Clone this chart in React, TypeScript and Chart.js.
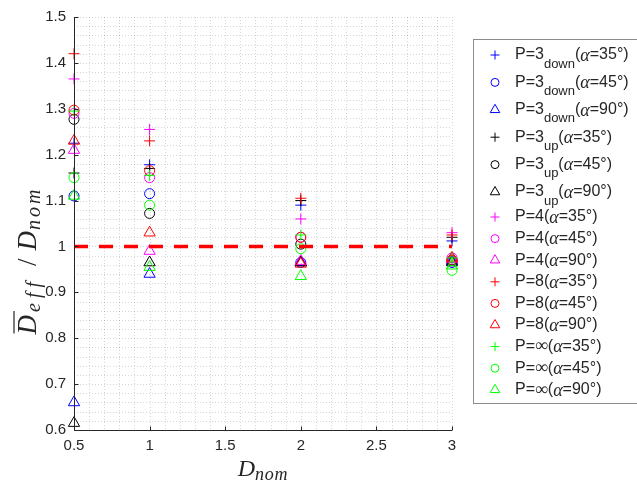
import React, { useEffect, useRef } from 'react';
import { Chart, registerables } from 'chart.js';

Chart.register(...registerables);

// ---- data ----
const xCategories = [0.5, 1, 2, 3];

const p3down35 = [1.225, 1.178, 1.09, 1.012];
const p3down45 = [1.11, 1.115, 0.965, 0.965];
const p3down90 = [0.66, 0.94, 0.965, 0.968];
const p3up35 = [1.16, 1.17, 1.1, 1.02];
const p3up45 = [1.277, 1.072, 1.005, 0.97];
const p3up90 = [0.615, 0.965, 0.965, 0.965];
const p4a35 = [1.365, 1.255, 1.06, 1.03];
const p4a45 = [1.29, 1.15, 1.02, 0.975];
const p4a90 = [1.21, 0.99, 0.968, 0.972];
const p8a35 = [1.42, 1.23, 1.105, 1.025];
const p8a45 = [1.297, 1.165, 1.02, 0.97];
const p8a90 = [1.23, 1.03, 0.962, 0.975];
const pInf35 = [1.295, 1.155, 1.025, 0.975];
const pInf45 = [1.15, 1.09, 0.995, 0.948];
const pInf90 = [1.11, 0.955, 0.935, 0.958];

const seriesValues = [
  p3down35, p3down45, p3down90,
  p3up35, p3up45, p3up90,
  p4a35, p4a45, p4a90,
  p8a35, p8a45, p8a90,
  pInf35, pInf45, pInf90,
];
const seriesP = ['3', '3', '3', '3', '3', '3', '4', '4', '4', '8', '8', '8', '∞', '∞', '∞'];
const seriesSub = ['down', 'down', 'down', 'up', 'up', 'up', '', '', '', '', '', '', '', '', ''];
const seriesAlpha = ['35', '45', '90', '35', '45', '90', '35', '45', '90', '35', '45', '90', '35', '45', '90'];
const seriesColors = [
  '#0000ff', '#0000ff', '#0000ff',
  '#000000', '#000000', '#000000',
  '#ff00ff', '#ff00ff', '#ff00ff',
  '#ff0000', '#ff0000', '#ff0000',
  '#00ff00', '#00ff00', '#00ff00',
];
const seriesShapes = [
  'cross', 'circle', 'triangle', 'cross', 'circle', 'triangle', 'cross', 'circle', 'triangle',
  'cross', 'circle', 'triangle', 'cross', 'circle', 'triangle',
];

const xMin = 0.5;
const xMax = 3;
const xMajorStep = 0.5;
const xMinorStep = 0.1;
const yMin = 0.6;
const yMax = 1.5;
const yMajorStep = 0.1;
const yMinorStep = 0.02;
const referenceLevel = 1;

// ---- styling ----
const TEXT = '#262626';
const SANS = "'Liberation Sans', Arial, sans-serif";
const SERIF = "'Liberation Serif', 'Times New Roman', serif";

function radiusFor(shape: string) {
  if (shape === 'triangle') return 6.5;
  if (shape === 'circle') return 5;
  return 5.5;
}

function drawMarker(ctx: CanvasRenderingContext2D, shape: string, x: number, y: number, r: number, color: string) {
  ctx.save();
  ctx.strokeStyle = color;
  ctx.lineWidth = 1;
  ctx.setLineDash([]);
  ctx.beginPath();
  if (shape === 'cross') {
    ctx.moveTo(x - r, y);
    ctx.lineTo(x + r, y);
    ctx.moveTo(x, y - r);
    ctx.lineTo(x, y + r);
  } else if (shape === 'circle') {
    ctx.arc(x, y, r, 0, Math.PI * 2);
  } else {
    ctx.moveTo(x, y - r);
    ctx.lineTo(x + 0.866 * r, y + 0.5 * r);
    ctx.lineTo(x - 0.866 * r, y + 0.5 * r);
    ctx.closePath();
  }
  ctx.stroke();
  ctx.restore();
}

const gridPlugin = {
  id: 'matlabGrid',
  beforeDatasetsDraw(chart: any) {
    const { ctx, chartArea, scales } = chart;
    const { left, right, top, bottom } = chartArea;
    ctx.save();
    ctx.strokeStyle = 'rgba(0,0,0,0.16)';
    ctx.lineWidth = 1;
    ctx.setLineDash([1, 2]);
    const nx = Math.round((xMax - xMin) / xMinorStep);
    for (let i = 1; i <= nx; i++) {
      const px = Math.round(scales.x.getPixelForValue(xMin + i * xMinorStep)) + 0.5;
      ctx.beginPath();
      ctx.moveTo(px, top);
      ctx.lineTo(px, bottom);
      ctx.stroke();
    }
    const ny = Math.round((yMax - yMin) / yMinorStep);
    for (let i = 1; i <= ny; i++) {
      const py = Math.round(scales.y.getPixelForValue(yMin + i * yMinorStep)) + 0.5;
      ctx.beginPath();
      ctx.moveTo(left, py);
      ctx.lineTo(right, py);
      ctx.stroke();
    }
    ctx.restore();
  },
};

const axesPlugin = {
  id: 'matlabAxes',
  afterDatasetsDraw(chart: any) {
    const { ctx, chartArea, scales } = chart;
    const { left, right, top, bottom } = chartArea;
    const lx = Math.round(left) + 0.5;
    const by = Math.round(bottom) + 0.5;
    ctx.save();
    ctx.strokeStyle = TEXT;
    ctx.lineWidth = 1;
    ctx.setLineDash([]);
    ctx.beginPath();
    ctx.moveTo(lx, top);
    ctx.lineTo(lx, by);
    ctx.lineTo(right, by);
    const tl = 4;
    const nx = Math.round((xMax - xMin) / xMajorStep);
    for (let i = 0; i <= nx; i++) {
      const px = Math.round(scales.x.getPixelForValue(xMin + i * xMajorStep)) + 0.5;
      ctx.moveTo(px, by);
      ctx.lineTo(px, by - tl);
    }
    const ny = Math.round((yMax - yMin) / yMajorStep);
    for (let i = 0; i <= ny; i++) {
      const py = Math.round(scales.y.getPixelForValue(yMin + i * yMajorStep)) + 0.5;
      ctx.moveTo(lx, py);
      ctx.lineTo(lx + tl, py);
    }
    ctx.stroke();
    ctx.restore();
  },
};

type Seg = { t: string; f: string; dy: number; ls?: number; gap?: number };

function segW(ctx: CanvasRenderingContext2D, s: Seg) {
  ctx.font = s.f;
  const chars = Array.from(s.t);
  return ctx.measureText(s.t).width + (s.ls || 0) * chars.length + (s.gap || 0);
}

function drawSegments(ctx: CanvasRenderingContext2D, segs: Seg[], startX: number, baseY: number) {
  let x = startX;
  const pos: number[] = [];
  for (const s of segs) {
    ctx.font = s.f;
    x += (s.gap || 0) / 2;
    pos.push(x);
    if (s.ls) {
      for (const ch of Array.from(s.t)) {
        ctx.fillText(ch, x, baseY + s.dy);
        x += ctx.measureText(ch).width + s.ls;
      }
    } else {
      ctx.fillText(s.t, x, baseY + s.dy);
      x += ctx.measureText(s.t).width;
    }
    x += (s.gap || 0) / 2;
  }
  return pos;
}

function totalW(ctx: CanvasRenderingContext2D, segs: Seg[]) {
  let w = 0;
  for (const s of segs) w += segW(ctx, s);
  return w;
}

const annotationsPlugin = {
  id: 'matlabAnnotations',
  afterDraw(chart: any) {
    const { ctx, chartArea } = chart;
    ctx.save();
    ctx.fillStyle = TEXT;
    ctx.textAlign = 'left';

    // legend box
    const boxL = 473.5;
    const boxT = 39.5;
    const boxB = 403.5;
    ctx.strokeStyle = '#8c8c8c';
    ctx.lineWidth = 1;
    ctx.strokeRect(boxL, boxT, 700 - boxL, boxB - boxT);

    let yc = 55;
    const sansF = `16px ${SANS}`;
    for (let i = 0; i < seriesP.length; i++) {
      if (i > 0) {
        const a = seriesSub[i - 1] !== '';
        const b = seriesSub[i] !== '';
        yc += a && b ? 27.4 : a !== b ? 25 : 21.6;
      }
      drawMarker(ctx, seriesShapes[i], 495, yc, radiusFor(seriesShapes[i]) - 1, seriesColors[i]);
      ctx.textBaseline = 'middle';
      ctx.fillStyle = TEXT;
      const segs: Seg[] = [
        { t: 'P=', f: sansF, dy: 0 },
        { t: seriesP[i], f: seriesP[i] === '∞' ? `18px ${SERIF}` : sansF, dy: 0 },
      ];
      if (seriesSub[i]) segs.push({ t: seriesSub[i], f: `13px ${SANS}`, dy: 9 });
      segs.push({ t: '(', f: sansF, dy: 0 });
      segs.push({ t: 'α', f: `italic 18px ${SERIF}`, dy: 1 });
      segs.push({ t: '=' + seriesAlpha[i] + '°)', f: sansF, dy: 0 });
      drawSegments(ctx, segs, 515, yc);
    }

    // x axis title
    ctx.textBaseline = 'alphabetic';
    const xSegs: Seg[] = [
      { t: 'D', f: `italic 24px ${SERIF}`, dy: 0 },
      { t: 'nom', f: `italic 18px ${SERIF}`, dy: 4, ls: 0.8 },
    ];
    const xc = (chartArea.left + chartArea.right) / 2;
    const xw = totalW(ctx, xSegs);
    drawSegments(ctx, xSegs, xc - xw / 2, 476);

    // y axis title (rotated)
    ctx.save();
    ctx.translate(0, 260);
    ctx.rotate(-Math.PI / 2);
    const ySegs: Seg[] = [
      { t: 'D', f: `italic 27px ${SERIF}`, dy: 0 },
      { t: 'eff', f: `italic 20px ${SERIF}`, dy: 4, ls: 5, gap: 6 },
      { t: '/', f: `27px ${SERIF}`, dy: 0, gap: 16 },
      { t: 'D', f: `italic 27px ${SERIF}`, dy: 0 },
      { t: 'nom', f: `italic 20px ${SERIF}`, dy: 4, ls: 3, gap: 2 },
    ];
    const yw = totalW(ctx, ySegs);
    const pos = drawSegments(ctx, ySegs, -yw / 2, 36);
    ctx.font = ySegs[0].f;
    const dW = ctx.measureText('D').width;
    ctx.strokeStyle = TEXT;
    ctx.lineWidth = 1.2;
    ctx.beginPath();
    ctx.moveTo(pos[0] + 1, 14);
    ctx.lineTo(pos[0] + dW + 4, 14);
    ctx.stroke();
    ctx.restore();

    ctx.restore();
  },
};

export default function App() {
  const canvasRef = useRef<HTMLCanvasElement | null>(null);

  useEffect(() => {
    document.body.style.margin = '0';
    const canvas = canvasRef.current;
    if (!canvas) return;

    const datasets: any[] = seriesValues.map((vals, i) => ({
      type: 'scatter',
      label: `P=${seriesP[i]}${seriesSub[i]}(α=${seriesAlpha[i]}°)`,
      data: vals.map((v, j) => ({ x: xCategories[j], y: v })),
      pointStyle: seriesShapes[i],
      pointRadius: radiusFor(seriesShapes[i]),
      pointHoverRadius: radiusFor(seriesShapes[i]),
      borderColor: seriesColors[i],
      backgroundColor: 'rgba(0,0,0,0)',
      pointBorderWidth: 1,
      borderWidth: 1,
      showLine: false,
      clip: false,
      order: seriesValues.length - i,
    }));

    datasets.push({
      type: 'line',
      label: 'reference',
      data: [
        { x: xMin, y: referenceLevel },
        { x: xMax, y: referenceLevel },
      ],
      borderColor: '#ff0000',
      borderWidth: 3.5,
      borderDash: [14, 11],
      pointRadius: 0,
      fill: false,
      clip: false,
      order: -1,
    });

    const tickFont = { family: SANS, size: 15 };
    const chart = new Chart(canvas, {
      type: 'scatter',
      data: { datasets },
      plugins: [gridPlugin, axesPlugin, annotationsPlugin],
      options: {
        responsive: false,
        animation: false,
        devicePixelRatio: 1,
        layout: { padding: { left: 0, top: 17, right: 185, bottom: 0 } },
        plugins: {
          legend: { display: false },
          tooltip: { enabled: false },
          title: { display: false },
        },
        scales: {
          x: {
            type: 'linear',
            min: xMin,
            max: xMax,
            grid: { display: false, drawTicks: false },
            border: { display: false },
            ticks: {
              stepSize: xMajorStep,
              autoSkip: false,
              maxRotation: 0,
              padding: 7,
              color: TEXT,
              font: tickFont,
              callback: (v: any) => String(Math.round(Number(v) * 10) / 10),
            },
            afterFit: (s: any) => {
              s.height = 52;
            },
          },
          y: {
            type: 'linear',
            min: yMin,
            max: yMax,
            grid: { display: false, drawTicks: false },
            border: { display: false },
            ticks: {
              stepSize: yMajorStep,
              autoSkip: false,
              padding: 8,
              color: TEXT,
              font: tickFont,
              callback: (v: any) => String(Math.round(Number(v) * 10) / 10),
            },
            afterFit: (s: any) => {
              s.width = 74;
            },
          },
        },
      },
    } as any);

    return () => {
      chart.destroy();
    };
  }, []);

  return (
    <div style={{ width: 637, height: 482, position: 'relative', background: '#fff' }}>
      <canvas ref={canvasRef} width={637} height={482} style={{ display: 'block' }} />
    </div>
  );
}
